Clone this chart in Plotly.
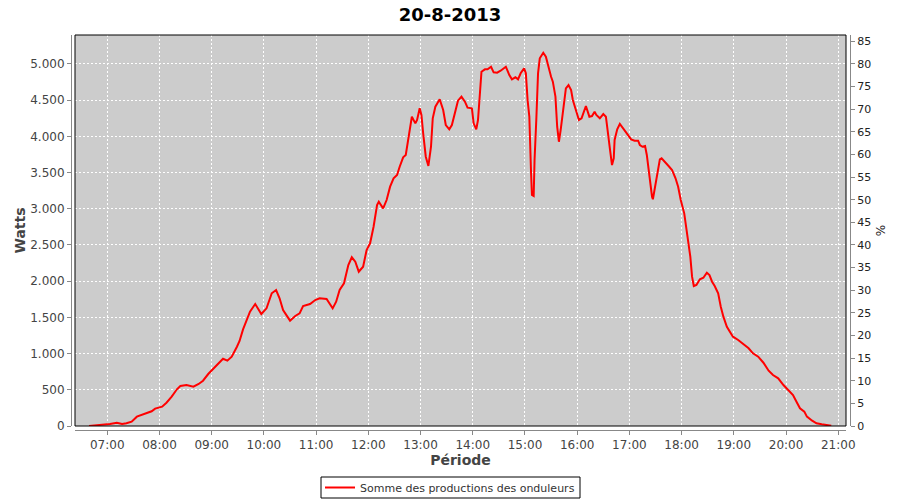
import pandas as pd
import plotly.graph_objects as go

# Data (20-8-2013)
times = [
    "06:39", "06:57", "07:03", "07:11", "07:17", "07:22", "07:28", "07:34", "07:40", "07:45",
    "07:51", "07:55", "08:03", "08:08", "08:14", "08:20", "08:24", "08:31", "08:39", "08:45",
    "08:50", "08:56", "09:02", "09:08", "09:13", "09:18", "09:23", "09:29", "09:32", "09:36",
    "09:44", "09:50", "09:57", "10:03", "10:09", "10:14", "10:18", "10:22", "10:26", "10:30",
    "10:36", "10:41", "10:45", "10:53", "10:59", "11:04", "11:12", "11:16", "11:19", "11:23",
    "11:27", "11:32", "11:37", "11:41", "11:45", "11:49", "11:54", "11:58", "12:02", "12:06",
    "12:10", "12:12", "12:17", "12:21", "12:25", "12:29", "12:33", "12:36", "12:40", "12:43",
    "12:46", "12:50", "12:54", "12:56", "12:59", "13:01", "13:03", "13:06", "13:09", "13:12",
    "13:14", "13:17", "13:22", "13:26", "13:29", "13:33", "13:36", "13:40", "13:43", "13:47",
    "13:51", "13:54", "13:59", "14:01", "14:04", "14:06", "14:08", "14:10", "14:14", "14:17",
    "14:21", "14:24", "14:28", "14:32", "14:38", "14:42", "14:45", "14:49", "14:52", "14:55",
    "14:59", "15:01", "15:03", "15:05", "15:07", "15:08", "15:10", "15:11", "15:13", "15:15",
    "15:17", "15:21", "15:24", "15:27", "15:30", "15:32", "15:35", "15:37", "15:39", "15:41",
    "15:44", "15:47", "15:50", "15:53", "15:55", "15:59", "16:02", "16:05", "16:10", "16:14",
    "16:17", "16:20", "16:22", "16:26", "16:30", "16:33", "16:35", "16:38", "16:40", "16:42",
    "16:43", "16:46", "16:49", "16:53", "16:57", "17:02", "17:06", "17:10", "17:12", "17:15",
    "17:18", "17:20", "17:22", "17:24", "17:26", "17:27", "17:29", "17:32", "17:35", "17:37",
    "17:41", "17:45", "17:49", "17:53", "17:56", "17:59", "18:03", "18:06", "18:10", "18:12",
    "18:14", "18:17", "18:21", "18:25", "18:29", "18:32", "18:35", "18:38", "18:42", "18:45",
    "18:48", "18:52", "18:56", "18:59", "19:05", "19:11", "19:17", "19:22", "19:28", "19:34",
    "19:40", "19:45", "19:51", "19:57", "20:03", "20:08", "20:12", "20:16", "20:21", "20:24",
    "20:30", "20:35", "20:41", "20:47", "20:52",
]
watts = [
    0, 14, 28, 46, 28, 37, 60, 129, 156, 184,
    203, 240, 267, 322, 405, 507, 552, 566, 543, 580,
    626, 718, 797, 874, 929, 902, 957, 1095, 1174, 1335,
    1579, 1685, 1547, 1625, 1833, 1878, 1764, 1602, 1533, 1455,
    1519, 1556, 1657, 1685, 1740, 1764, 1754, 1671, 1625, 1717,
    1878, 1971, 2223, 2330, 2269, 2131, 2200, 2430, 2523, 2752,
    3052, 3098, 3006, 3121, 3305, 3421, 3466, 3581, 3711, 3743,
    3950, 4272, 4180, 4226, 4388, 4295, 4042, 3719, 3591, 3857,
    4249, 4410, 4512, 4364, 4157, 4097, 4157, 4341, 4493, 4548,
    4479, 4396, 4388, 4180, 4097, 4226, 4640, 4893, 4926, 4926,
    4962, 4884, 4879, 4907, 4962, 4847, 4788, 4816, 4788, 4871,
    4940, 4871, 4502, 4272, 3490, 3190, 3176, 3674, 4226, 4871,
    5078, 5155, 5100, 4940, 4824, 4755, 4548, 4133, 3926, 4088,
    4410, 4664, 4709, 4640, 4502, 4341, 4226, 4249, 4419, 4272,
    4281, 4341, 4295, 4249, 4309, 4272, 4042, 3788, 3604, 3697,
    3950, 4097, 4171, 4097, 4042, 3959, 3940, 3940, 3881, 3857,
    3867, 3743, 3536, 3305, 3167, 3131, 3283, 3490, 3683, 3697,
    3636, 3591, 3536, 3421, 3305, 3121, 2937, 2661, 2338, 2062,
    1933, 1947, 2026, 2048, 2117, 2085, 1993, 1933, 1833, 1648,
    1510, 1371, 1289, 1233, 1188, 1132, 1073, 1004, 957, 874,
    764, 704, 659, 566, 488, 428, 336, 244, 198, 129,
    73, 37, 23, 14, 4,
]

day = "2013-08-20"
x_range = [day + " 06:22:54", day + " 21:08:54"]
y_range = [0, 5400]
pct_range = [0, 86.4]
title_text = "20-8-2013"
series_name = "Somme des productions des onduleurs"

xs = pd.to_datetime([day + " " + t for t in times])

FONT = "DejaVu Sans"
TICK_COLOR = "#444444"
AXIS_COLOR = "#888888"

fig = go.Figure()
fig.add_trace(go.Scatter(
    x=xs, y=watts, mode="lines", name=series_name,
    line=dict(color="#ff0000", width=2),
    xaxis="x", yaxis="y",
))
fig.add_trace(go.Scatter(
    x=[xs[0]], y=[None], mode="lines", showlegend=False,
    xaxis="x", yaxis="y2", hoverinfo="skip",
))

ML, MR, MT, MB = 71, 50, 35, 70
W_PAPER = 900 - ML - MR
H_PAPER = 500 - MT - MB


def px_x(p):
    return (p - ML) / W_PAPER


def px_y(p):
    return (500 - MB - p) / H_PAPER


fig.update_layout(
    width=900, height=500,
    margin=dict(l=ML, r=MR, t=MT, b=MB, autoexpand=False),
    paper_bgcolor="white",
    plot_bgcolor="#cccccc",
    separators=",.",
    font=dict(family=FONT, size=12, color=TICK_COLOR),
    title=dict(
        text="<b>" + title_text + "</b>",
        x=0.5, xref="container", xanchor="center",
        y=1 - 15 / 500, yref="container", yanchor="middle",
        font=dict(family=FONT, size=18, color="#000000"),
        automargin=False,
    ),
    showlegend=True,
    legend=dict(
        orientation="h",
        x=px_x(450), xanchor="center",
        y=px_y(473), yanchor="top",
        borderwidth=0,
        bgcolor="rgba(0,0,0,0)",
        font=dict(family=FONT, size=11, color="#333333"),
    ),
    xaxis=dict(
        type="date",
        domain=[4 / W_PAPER, 1 - 4 / W_PAPER],
        anchor="free", position=0,
        range=x_range,
        tick0=day + " 07:00", dtick=3600000,
        tickformat="%H:%M",
        showline=True, linecolor=AXIS_COLOR, linewidth=1,
        ticks="outside", ticklen=4, tickcolor=AXIS_COLOR,
        showgrid=True, gridcolor="white", gridwidth=1, griddash="2px,2px",
        zeroline=False, automargin=False,
        tickfont=dict(family=FONT, size=12, color=TICK_COLOR),
        title=dict(text="<b>Période</b>", standoff=3,
                   font=dict(family=FONT, size=14, color="#444444")),
    ),
    yaxis=dict(
        domain=[4 / H_PAPER, 1],
        anchor="free", position=0,
        range=y_range,
        dtick=500, tickformat=",d",
        showline=True, linecolor=AXIS_COLOR, linewidth=1,
        ticks="outside", ticklen=4, tickcolor=AXIS_COLOR,
        showgrid=True, gridcolor="white", gridwidth=1, griddash="2px,2px",
        zeroline=False, automargin=False,
        tickfont=dict(family=FONT, size=12, color=TICK_COLOR),
        title=dict(text="<b>Watts</b>", standoff=0,
                   font=dict(family=FONT, size=14, color="#444444")),
    ),
    yaxis2=dict(
        overlaying="y", side="right",
        anchor="free", position=1,
        range=pct_range,
        dtick=5,
        showline=True, linecolor=AXIS_COLOR, linewidth=1,
        ticks="outside", ticklen=4, tickcolor=AXIS_COLOR,
        showgrid=False, zeroline=False, automargin=False,
        tickfont=dict(family=FONT, size=11, color="#222222"),
        title=dict(text="%", standoff=6,
                   font=dict(family=FONT, size=12, color="#222222")),
    ),
)

# black frame around the plotting area
fig.add_shape(
    type="rect", xref="x domain", yref="y domain",
    x0=0, x1=1, y0=0, y1=1,
    line=dict(color="#000000", width=1), fillcolor="rgba(0,0,0,0)",
    layer="above",
)
# frame around the legend
fig.add_shape(
    type="rect", xref="paper", yref="paper",
    x0=px_x(321), x1=px_x(580), y0=px_y(498), y1=px_y(477),
    line=dict(color="#000000", width=1), fillcolor="rgba(0,0,0,0)",
    layer="above",
)

fig.write_html(
    "out.html",
    config={"displayModeBar": False},
    post_script="document.body.style.margin='0px';document.body.style.overflow='hidden';",
)
